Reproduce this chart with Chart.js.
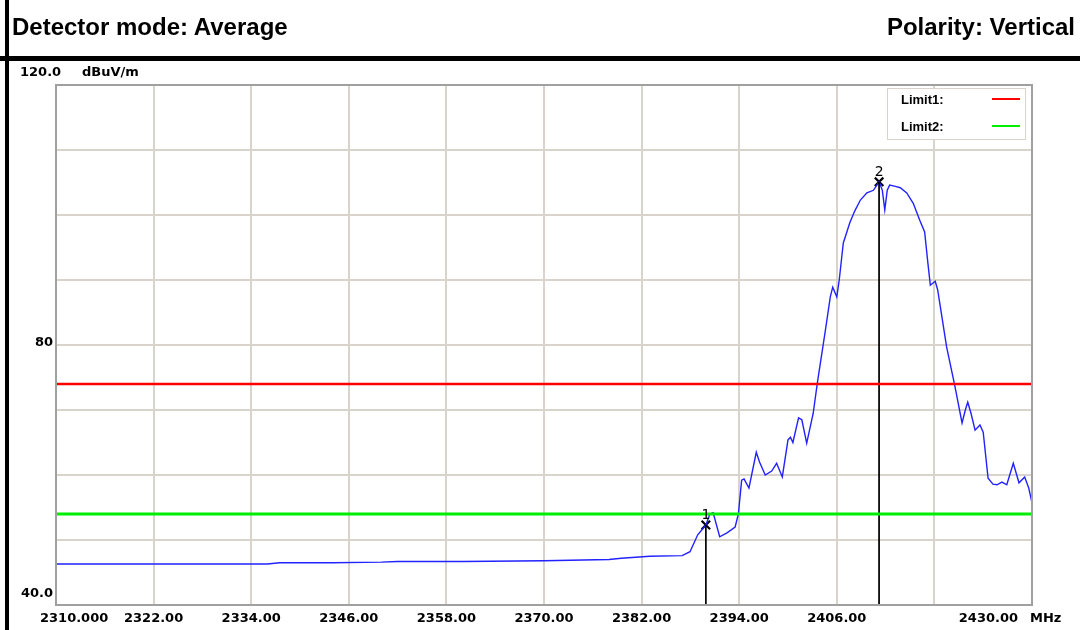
<!DOCTYPE html>
<html>
<head>
<meta charset="utf-8">
<script src="https://cdn.jsdelivr.net/npm/chart.js@4/dist/chart.umd.min.js"></script>
<style>
  html, body { margin: 0; padding: 0; background: #fff; }
  body { width: 1080px; height: 630px; position: relative; overflow: hidden; }
  #chart { position: absolute; left: 0; top: 0; }
  .bar { position: absolute; background: #000; }
  .head {
    position: absolute; top: 15px; font: bold 24px "Liberation Sans", Arial, sans-serif;
    line-height: 24px; color: #000; white-space: nowrap;
  }
</style>
</head>
<body>
<canvas id="chart" width="1080" height="630"></canvas>
<div class="bar" style="left:5px;top:0;width:4px;height:630px"></div>
<div class="bar" style="left:0;top:56px;width:1080px;height:5px"></div>
<div class="head" style="left:12px">Detector mode: Average</div>
<div class="head" style="right:5px">Polarity: Vertical</div>
<script>
// spectrum trace (MHz / dBuV/m)
const freqs = [
  2310.0, 2316.0, 2326.0, 2336.0, 2337.5, 2344.0, 2350.0, 2352.0, 2360.0, 2370.0,
  2378.0, 2379.5, 2383.0, 2387.0, 2387.95, 2388.9, 2389.9, 2390.4, 2390.8, 2391.6,
  2392.5, 2393.5, 2393.9, 2394.3, 2394.6, 2394.8, 2395.2, 2396.1, 2396.5, 2397.2,
  2398.0, 2398.6, 2399.3, 2400.0, 2400.3, 2400.6, 2401.3, 2401.7, 2402.3, 2403.1,
  2403.6, 2404.6, 2405.2, 2405.5, 2406.0, 2406.3, 2406.8, 2407.6, 2408.2, 2408.9,
  2409.7, 2410.5, 2411.2, 2411.6, 2411.9, 2412.2, 2412.5, 2413.2, 2413.8, 2414.6,
  2415.4, 2416.2, 2416.8, 2417.2, 2417.5, 2418.1, 2418.4, 2419.5, 2420.5, 2421.4,
  2421.8, 2422.1, 2422.5, 2423.0, 2423.6, 2424.0, 2424.6, 2425.2, 2425.7, 2426.3,
  2426.9, 2427.7, 2428.4, 2429.1, 2429.6, 2430.0
];
const levels = [
  46.3, 46.3, 46.3, 46.3, 46.5, 46.5, 46.6, 46.7, 46.7, 46.8,
  47.0, 47.2, 47.5, 47.6, 48.2, 50.8, 52.3, 54.0, 54.2, 50.5,
  51.1, 52.0, 54.0, 59.2, 59.4, 58.9, 58.0, 63.5, 62.0, 60.0,
  60.6, 61.8, 59.7, 65.4, 65.8, 65.0, 68.8, 68.5, 64.9, 69.5,
  74.1, 82.3, 87.4, 88.9, 87.4, 90.0, 95.7, 98.8, 100.6, 102.3,
  103.4, 103.8, 105.1, 103.8, 100.8, 103.8, 104.6, 104.4, 104.2, 103.4,
  101.8, 99.2, 97.4, 92.6, 89.2, 89.8, 88.5, 79.7, 73.8, 68.0,
  70.0, 71.2, 69.5, 66.9, 67.7, 66.6, 59.5, 58.6, 58.5, 58.9,
  58.5, 61.8, 58.8, 59.7, 58.0, 55.7
];
const limit1 = 74;
const limit2 = 54;
const markerFreqs = [2389.9, 2411.2];
const markerLevels = [52.3, 105.1];
const markerNames = ["1", "2"];
const xTicks = [2310, 2322, 2334, 2346, 2358, 2370, 2382, 2394, 2406, 2418, 2430];
const xTickLabels = ["2310.000", "2322.00", "2334.00", "2346.00", "2358.00", "2370.00",
  "2382.00", "2394.00", "2406.00", "", "2430.00"];
const yMin = 40, yMax = 120;
const yLabels = [[120, "120.0"], [80, "80"], [40, "40.0"]];

const xMin = xTicks[0], xMax = xTicks[xTicks.length - 1];
const GRID = "#d8d4cc";
const FONT = 'bold 13px "DejaVu Sans", sans-serif';

const markerLines = markerFreqs.map((f, i) => ({
  data: [{ x: f, y: markerLevels[i] }, { x: f, y: yMin }],
  borderColor: "#000", borderWidth: 1, pointRadius: 0,
}));

const decor = {
  id: "decor",
  beforeDraw(chart) {
    const c = chart.ctx;
    c.save();
    c.fillStyle = "#fff";
    c.fillRect(0, 0, chart.width, chart.height);
    c.restore();
  },
  afterDraw(chart) {
    const c = chart.ctx, a = chart.chartArea,
      xs = chart.scales.x, ys = chart.scales.y;
    c.save();
    // frame
    c.strokeStyle = "#a0a0a0";
    c.lineWidth = 2;
    c.strokeRect(a.left, a.top, a.right - a.left, a.bottom - a.top);

    c.fillStyle = "#000";
    c.font = FONT;
    c.textBaseline = "alphabetic";
    // x tick labels
    xTicks.forEach((t, i) => {
      const txt = xTickLabels[i];
      if (!txt) return;
      const px = xs.getPixelForValue(t);
      if (i === 0) { c.textAlign = "left"; c.fillText(txt, px - 16, 622); }
      else if (i === xTicks.length - 1) { c.textAlign = "right"; c.fillText(txt, px - 14, 622); }
      else { c.textAlign = "center"; c.fillText(txt, px, 622); }
    });
    c.textAlign = "left";
    c.fillText("MHz", a.right - 2, 622);

    // y labels
    yLabels.forEach(([v, txt]) => {
      const py = ys.getPixelForValue(v);
      if (v === yMax) { c.textAlign = "left"; c.fillText(txt, 20, py - 9); }
      else { c.textAlign = "right"; c.fillText(txt, a.left - 3, py + (v === yMin ? -8 : 1)); }
    });
    c.textAlign = "left";
    c.fillText("dBuV/m", 82, ys.getPixelForValue(yMax) - 9);

    // marker numbers
    c.font = '14px "DejaVu Sans", sans-serif';
    c.textAlign = "center";
    markerFreqs.forEach((f, i) => {
      c.fillText(markerNames[i], xs.getPixelForValue(f), ys.getPixelForValue(markerLevels[i]) - 6);
    });

    // legend box
    const lx = a.right - 145, ly = a.top + 3;
    c.fillStyle = "#fff";
    c.fillRect(lx, ly, 138, 51);
    c.strokeStyle = GRID;
    c.lineWidth = 1;
    c.strokeRect(lx + 0.5, ly + 0.5, 138, 51);
    c.fillStyle = "#000";
    c.font = 'bold 13px "Liberation Sans", Arial, sans-serif';
    c.textAlign = "left";
    c.fillText("Limit1:", lx + 14, ly + 16);
    c.fillText("Limit2:", lx + 14, ly + 43);
    c.lineWidth = 2;
    c.strokeStyle = "#ff0000";
    c.beginPath(); c.moveTo(lx + 105, ly + 11); c.lineTo(lx + 133, ly + 11); c.stroke();
    c.strokeStyle = "#00ee00";
    c.beginPath(); c.moveTo(lx + 105, ly + 38); c.lineTo(lx + 133, ly + 38); c.stroke();
    c.restore();
  },
};

new Chart(document.getElementById("chart"), {
  type: "scatter",
  data: {
    datasets: [
      {
        data: [{ x: xMin, y: limit1 }, { x: xMax, y: limit1 }],
        showLine: true, borderColor: "#ff0000", borderWidth: 2.5, pointRadius: 0,
      },
      {
        data: [{ x: xMin, y: limit2 }, { x: xMax, y: limit2 }],
        showLine: true, borderColor: "#00ee00", borderWidth: 3, pointRadius: 0,
      },
      ...markerLines.map((m) => Object.assign({ showLine: true }, m)),
      {
        data: freqs.map((f, i) => ({ x: f, y: levels[i] })),
        showLine: true, borderColor: "#2222ff", borderWidth: 1.4, pointRadius: 0, tension: 0,
      },
      {
        data: markerFreqs.map((f, i) => ({ x: f, y: markerLevels[i] })),
        pointStyle: "crossRot", pointRadius: 6, borderColor: "#000", borderWidth: 2.2,
        showLine: false,
      },
    ],
  },
  options: {
    responsive: false,
    animation: false,
    devicePixelRatio: 1,
    layout: { padding: { left: 56, right: 48, top: 85, bottom: 25 } },
    plugins: { legend: { display: false }, tooltip: { enabled: false } },
    scales: {
      x: {
        type: "linear", min: xMin, max: xMax,
        afterBuildTicks: (s) => { s.ticks = xTicks.map((v) => ({ value: v })); },
        ticks: { display: false },
        grid: { color: GRID, lineWidth: 2, drawTicks: false },
        border: { display: false },
      },
      y: {
        min: yMin, max: yMax,
        ticks: { display: false, stepSize: 10 },
        grid: { color: GRID, lineWidth: 2, drawTicks: false },
        border: { display: false },
      },
    },
  },
  plugins: [decor],
});
</script>
</body>
</html>
